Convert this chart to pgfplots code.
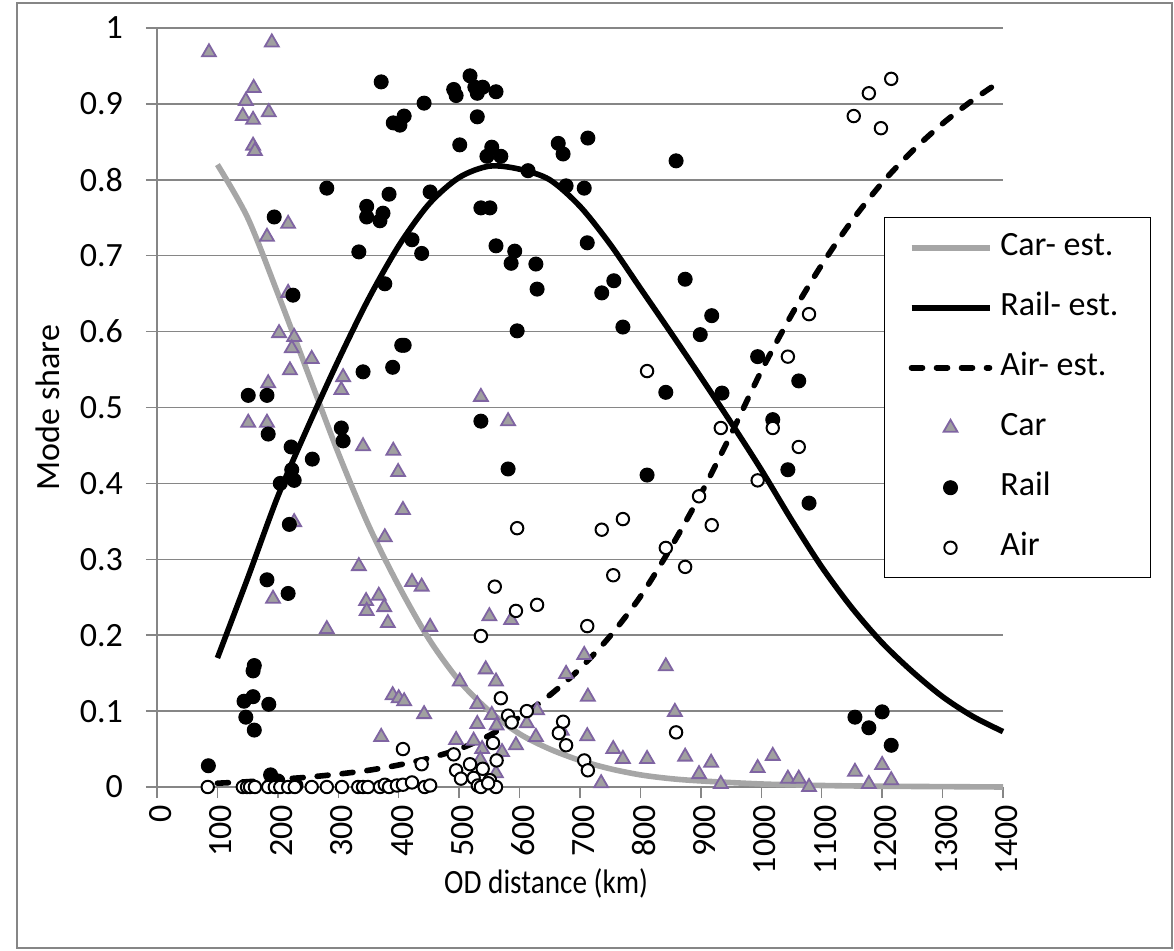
\documentclass[border=0pt]{standalone}
\usepackage{fontspec}
\setmainfont{Carlito}
\usepackage{graphicx}
\usepackage{pgfplots}
\pgfplotsset{compat=1.18}
\definecolor{cargray}{HTML}{A6A6A6}
\definecolor{gridgray}{HTML}{868686}
\definecolor{tripurple}{HTML}{7F64A2}
\definecolor{trifill}{HTML}{A0A0A0}
\newcommand{\bigf}{\fontsize{17}{20}\selectfont}

\begin{document}
\begin{tikzpicture}
\useasboundingbox (-78.5pt,-81.5pt) rectangle (508.5pt,393.5pt);
\draw[gridgray, line width=0.6pt] (-70pt,-80.5pt) rectangle (507.5pt,392pt);
\begin{axis}[
  at={(0,0)}, anchor=south west,
  scale only axis, width=423pt, height=379.5pt,
  xmin=0, xmax=1400, ymin=0, ymax=1,
  xtick={0,100,200,300,400,500,600,700,800,900,1000,1100,1200,1300,1400},
  xticklabels={0,100,200,300,400,500,600,700,800,900,1000,1100,1200,1300,1400},
  ytick={0,0.1,0.2,0.3,0.4,0.5,0.6,0.7,0.8,0.9,1},
  yticklabels={0,0.1,0.2,0.3,0.4,0.5,0.6,0.7,0.8,0.9,1},
  axis x line*=bottom, axis y line*=left,
  axis line style={gridgray, line width=0.75pt, -},
  tick align=outside, major tick length=5.5pt,
  tick style={gridgray, line width=0.75pt},
  ymajorgrids, major grid style={gridgray, line width=0.75pt},
  xticklabel style={rotate=90, anchor=east, font=\bigf, yshift=-1.8pt},
  yticklabel style={font=\bigf, xshift=-8pt},
  xlabel={\scalebox{0.86}[1]{OD distance (km)}}, ylabel={Mode share},
  xlabel style={at={(axis description cs:0.46,-0.1265)}, anchor=center, font=\bigf},
  ylabel style={at={(axis description cs:-0.129,0.5)}, anchor=center, font=\bigf},
  clip=false,
  legend cell align=left,
  legend style={at={(axis description cs:0.8593,0.751)}, anchor=north west,
    draw=black, line width=0.75pt, fill=white, font=\bigf,
    inner xsep=12pt, inner ysep=5pt, row sep=10pt,
    nodes={text height=12pt, text depth=4pt, inner xsep=4pt, inner ysep=2pt, anchor=west}},
  legend image code/.code={\draw[mark repeat=2,mark phase=2,#1] plot coordinates {(0pt,0pt) (19.5pt,0pt) (39pt,0pt)};},
]
% Car - estimated
\addplot[cargray, line width=2.8pt, smooth, no marks] coordinates {
(100,0.82) (150,0.75) (200,0.65) (250,0.545) (300,0.44) (350,0.345) (400,0.265)
(450,0.195) (500,0.14) (550,0.10) (600,0.07) (650,0.05) (700,0.035) (750,0.024)
(800,0.016) (850,0.011) (900,0.008) (1000,0.004) (1100,0.002) (1200,0.001) (1300,0.0005) (1400,0.0)
};
\addlegendentry{Car- est.}
% Rail - estimated
\addplot[black, line width=2.8pt, smooth, no marks] coordinates {
(100,0.17) (150,0.275) (200,0.383) (250,0.475) (300,0.562) (350,0.643) (400,0.713)
(450,0.768) (500,0.803) (550,0.818) (600,0.814) (650,0.80) (700,0.765) (750,0.715)
(800,0.657) (850,0.599) (900,0.54) (950,0.48) (1000,0.418) (1050,0.352) (1100,0.29)
(1150,0.236) (1200,0.19) (1250,0.152) (1300,0.119) (1350,0.093) (1400,0.073)
};
\addlegendentry{Rail- est.}
% Air - estimated
\addplot[black, line width=2.8pt, smooth, no marks, line cap=round, dash pattern=on 5.5pt off 7pt] coordinates {
(100,0.005) (150,0.007) (200,0.01) (250,0.013) (300,0.017) (350,0.022) (400,0.029)
(450,0.038) (500,0.05) (550,0.068) (600,0.092) (650,0.121) (700,0.156) (750,0.199)
(800,0.251) (850,0.315) (900,0.386) (950,0.465) (1000,0.548) (1050,0.622) (1100,0.688)
(1150,0.746) (1200,0.796) (1250,0.838) (1300,0.874) (1350,0.905) (1400,0.932)
};
\addlegendentry{Air- est.}
% Car observed
\addplot[only marks, mark=triangle*, mark size=4pt, mark options={fill=trifill, draw=tripurple, line width=0.9pt}] coordinates {
(86,0.968) (190,0.981) (160,0.921) (147,0.904) (185,0.889) (142,0.884) (159,0.879)
(159,0.845) (162,0.838) (217,0.742) (182,0.725) (217,0.651) (202,0.598) (227,0.593)
(223,0.578) (256,0.564) (220,0.549) (308,0.540) (305,0.523) (184,0.532) (151,0.480)
(182,0.480) (341,0.449) (391,0.443) (399,0.415) (407,0.365) (227,0.349) (377,0.329)
(334,0.291) (422,0.270) (438,0.264) (192,0.248) (346,0.245) (367,0.252) (376,0.237)
(347,0.232) (382,0.216) (452,0.211) (281,0.208) (390,0.121) (400,0.117) (409,0.113)
(442,0.096) (371,0.066) (536,0.514) (581,0.482) (550,0.225) (586,0.220) (707,0.174)
(842,0.159) (544,0.155) (501,0.139) (561,0.139) (677,0.149) (713,0.119) (530,0.109)
(857,0.099) (629,0.101) (554,0.095) (562,0.081) (530,0.083) (612,0.084) (670,0.074)
(627,0.066) (712,0.067) (495,0.062) (524,0.061) (594,0.055) (538,0.050) (571,0.046)
(755,0.050) (771,0.037) (811,0.037) (874,0.040) (917,0.032) (897,0.017) (735,0.005)
(933,0.004) (535,0.036) (561,0.018) (1019,0.041) (994,0.025) (1044,0.011) (1062,0.011)
(1079,0.0) (1155,0.020) (1200,0.029) (1178,0.004) (1215,0.009)
};
\addlegendentry{Car}
% Rail observed
\addplot[only marks, mark=*, mark size=3.5pt, mark options={fill=black, draw=black, line width=0.5pt}] coordinates {
(371,0.929) (442,0.901) (409,0.884) (391,0.875) (402,0.872) (281,0.789) (347,0.765)
(347,0.751) (384,0.781) (374,0.756) (369,0.746) (452,0.784) (194,0.751) (422,0.721)
(334,0.705) (438,0.703) (225,0.648) (377,0.663) (405,0.582) (409,0.582) (341,0.547)
(390,0.553) (151,0.516) (182,0.516) (305,0.473) (308,0.456) (184,0.465) (222,0.448)
(257,0.432) (223,0.418) (227,0.404) (204,0.400) (219,0.346) (182,0.273) (217,0.255)
(161,0.160) (159,0.153) (144,0.113) (159,0.119) (185,0.109) (147,0.092) (161,0.075)
(85,0.028) (188,0.016) (190,0.005) (200,0.008) (230,0.002) (518,0.937) (491,0.919)
(495,0.911) (526,0.922) (539,0.922) (530,0.914) (561,0.916) (530,0.883) (501,0.846)
(554,0.843) (546,0.831) (569,0.831) (614,0.812) (664,0.848) (672,0.834) (713,0.855)
(859,0.825) (677,0.792) (707,0.789) (536,0.763) (551,0.763) (561,0.713) (592,0.706)
(586,0.690) (627,0.689) (712,0.717) (629,0.656) (736,0.651) (756,0.667) (874,0.669)
(918,0.621) (596,0.601) (771,0.606) (899,0.596) (842,0.520) (935,0.519) (536,0.482)
(581,0.419) (811,0.411) (994,0.567) (1062,0.535) (1019,0.484) (1044,0.418) (1079,0.374)
(1155,0.092) (1200,0.099) (1178,0.078) (1215,0.055)
};
\addlegendentry{Rail}
% Air observed
\addplot[only marks, mark=*, mark size=3.1pt, mark options={fill=white, draw=black, line width=1pt}] coordinates {
(811,0.548) (933,0.473) (897,0.383) (918,0.345) (596,0.341) (736,0.339) (771,0.353)
(842,0.315) (874,0.290) (1079,0.623) (1044,0.567) (1019,0.473) (1062,0.448) (994,0.404)
(1215,0.933) (1178,0.914) (1153,0.884) (1198,0.868) (755,0.279) (559,0.264) (594,0.232)
(629,0.240) (536,0.199) (712,0.212) (569,0.117) (612,0.100) (581,0.094) (587,0.085)
(672,0.086) (859,0.072) (665,0.071) (556,0.058) (677,0.055) (491,0.043) (562,0.035)
(518,0.030) (707,0.035) (713,0.022) (539,0.024) (495,0.022) (503,0.011) (524,0.012)
(551,0.009) (531,0.002) (536,0.0) (561,0.0) (548,0.005) (407,0.050) (438,0.030)
(84,0.0) (142,0.0) (149,0.0) (154,0.0) (162,0.0) (184,0.0) (195,0.0) (204,0.0)
(217,0.0) (228,0.0) (256,0.0) (281,0.0) (306,0.0) (333,0.0) (341,0.0) (349,0.0)
(369,0.0) (377,0.003) (384,0.0) (397,0.002) (407,0.003) (422,0.006) (443,0.0) (452,0.002)
};
\addlegendentry{Air}
\end{axis}
\end{tikzpicture}
\end{document}
